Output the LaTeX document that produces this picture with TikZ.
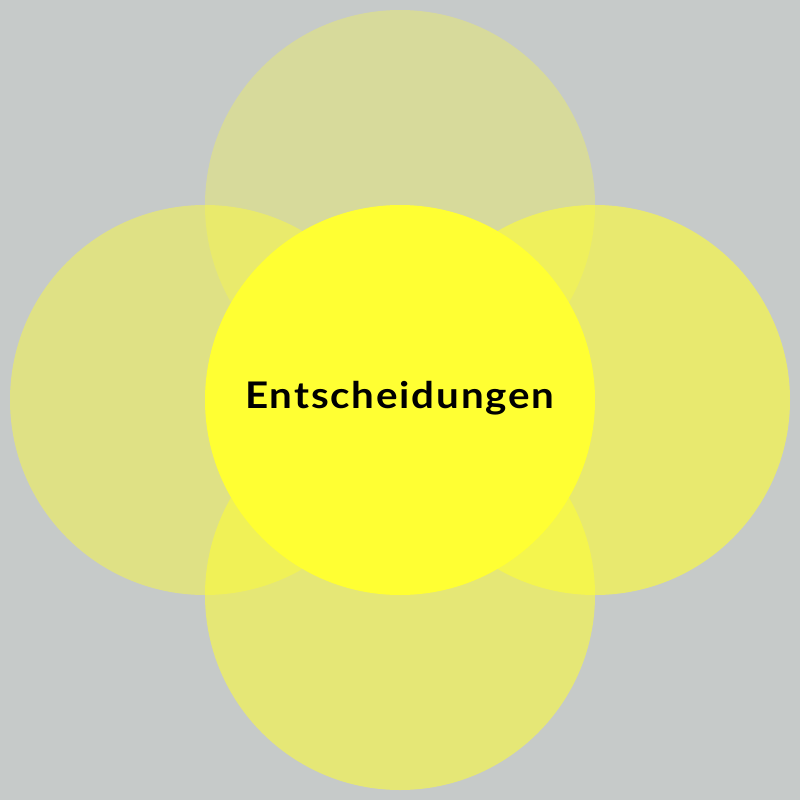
\documentclass[tikz,border=0pt]{standalone}
\usepackage{fontspec}
\setmainfont{Lato}
\newfontfamily\labelfont{Lato}[FakeStretch=1.1,LetterSpace=5]
\definecolor{bggray}{RGB}{198,202,201}
\definecolor{petal}{RGB}{255,255,51}
\definecolor{core}{RGB}{255,255,51}
\tikzset{
  petalcircle/.style={fill=petal, draw=none},
  corecircle/.style={fill=core, draw=none},
  label/.style={font=\labelfont\fontsize{27.5pt}{33pt}\selectfont\bfseries, text=black}
}
\begin{document}
\begin{tikzpicture}[x=0.75pt,y=-0.75pt]
\fill[bggray] (0,0) rectangle (800,800);
\useasboundingbox (0,0) rectangle (800,800);
\fill[petalcircle, fill opacity=0.3] (400,205) circle (146.25pt);
\fill[petalcircle, fill opacity=0.45] (205,400) circle (146.25pt);
\fill[petalcircle, fill opacity=0.6] (595,400) circle (146.25pt);
\fill[petalcircle, fill opacity=0.55] (400,595) circle (146.25pt);
\fill[corecircle] (400,400) circle (146.25pt);
\node[label] (center) at (400,398) {Entscheidungen};
\end{tikzpicture}
\end{document}
